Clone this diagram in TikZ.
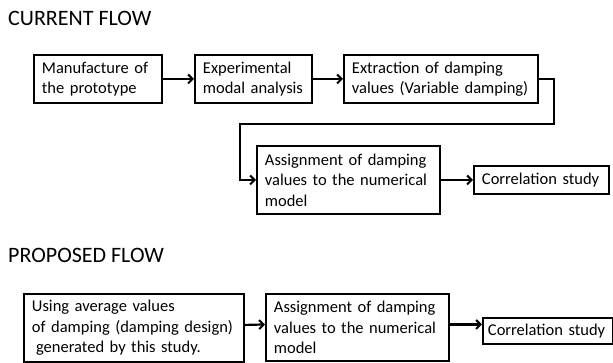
\documentclass[tikz,border=0pt]{standalone}
\usepackage{fontspec}
\setmainfont{Carlito}
\usetikzlibrary{arrows.meta}
\begin{document}
\begin{tikzpicture}[x=1pt,y=-1pt,
  heading/.style={anchor=base west,inner sep=0pt,font=\fontsize{22}{26}\selectfont},
  stepbox/.style={draw,line width=1.9pt,anchor=north west,inner xsep=8pt,inner ysep=0pt,
    align=left,font=\fontsize{16.5}{20.5}\selectfont},
  arr/.style={line width=2.2pt,-{Straight Barb[length=4.5pt,width=9pt,line width=2pt]}}]
\useasboundingbox (0,0) rectangle (613,363);
\node[heading] (h1) at (8,26) {CURRENT FLOW};
\node[heading] (h2) at (8,263) {PROPOSED FLOW};
% current flow
\node[stepbox,text width=112pt,minimum height=48pt] (b1) at (33,54) {Manufacture of\\the prototype};
\node[stepbox,text width=101pt,minimum height=48pt] (b2) at (194,54) {Experimental\\modal analysis};
\node[stepbox,text width=178pt,minimum height=48pt] (b3) at (343,54) {Extraction of damping\\values (Variable damping)};
\node[stepbox,text width=167pt,minimum height=68pt] (b4) at (256,145) {Assignment of damping\\values to the numerical\\model};
\node[stepbox,text width=119pt,minimum height=28pt] (b5) at (473,165) {Correlation study};
\coordinate (c1) at (554,124);
\coordinate (c2) at (240,124);
\draw[arr] (b1.east) -- (b2.west);
\draw[arr] (b2.east) -- (b3.west);
\draw[arr] (b3.east) -| (c1) -- (c2) |- (b4.west);
\draw[arr] (b4.east) -- (b5.west);
% proposed flow
\node[stepbox,text width=204pt,minimum height=68pt] (b6) at (23,293) {Using average values\\of damping (damping design)\\\hspace*{0.25em}generated by this study.};
\node[stepbox,text width=167pt,minimum height=67pt] (b7) at (265,293) {Assignment of damping\\values to the numerical\\model};
\node[stepbox,inner xsep=5pt,text width=120pt,minimum height=26pt] (b8) at (482,317) {Correlation study};
\draw[arr] ([yshift=3pt]b6.east) -- ([yshift=3pt]b7.west);
\draw[arr] ([yshift=3pt]b7.east) -- ([yshift=3pt]b7.east -| b8.west);
\end{tikzpicture}
\end{document}
